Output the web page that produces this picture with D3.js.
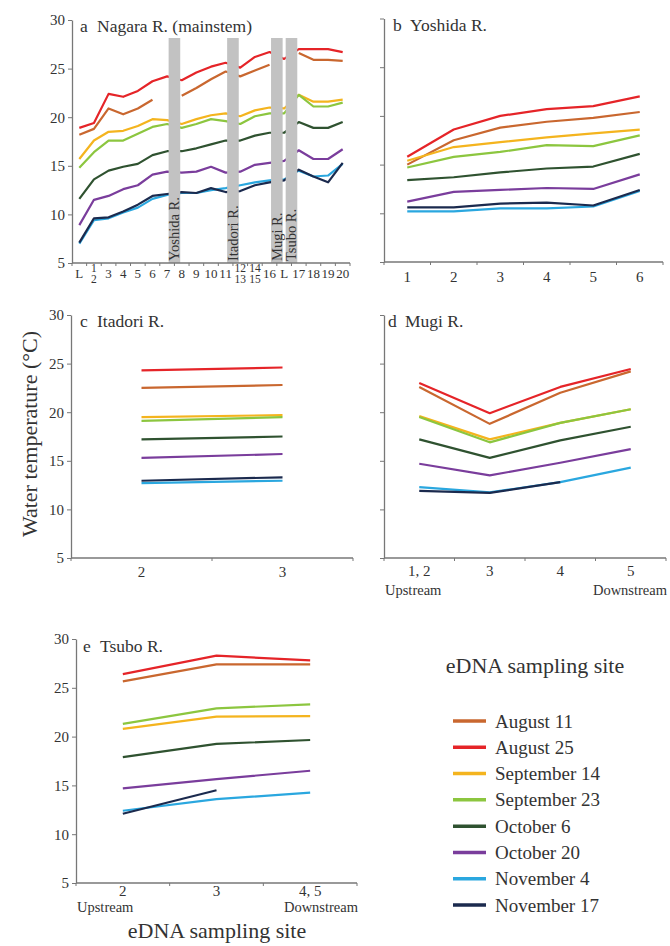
<!DOCTYPE html>
<html>
<head>
<meta charset="utf-8">
<script src="https://cdn.jsdelivr.net/npm/d3@7"></script>
<style>
  body { margin: 0; background: #fff; }
  text { font-family: "Liberation Serif", "Times New Roman", serif; fill: #333; }
</style>
</head>
<body>
<script>
// sampling dates (legend order) and their line colours
var dates = ["August 11", "August 25", "September 14", "September 23",
             "October 6", "October 20", "November 4", "November 17"];
var colors = ["#c9672f", "#e52428", "#f4b41e", "#8cc63f",
              "#2f5230", "#7a3d9c", "#2aa7df", "#1b2a4e"];

var yTicks = [5, 10, 15, 20, 25, 30];

// a  Nagara R. (mainstem)
var sitesA = ["L", "1/2", "3", "4", "5", "6", "7", "8", "9", "10", "11",
              "12/13", "14/15", "16", "L ", "17", "18", "19", "20"];
var nagara = [
  [18.2, 18.8, 20.9, 20.3, 20.9, 21.8, null, 22.2, 23.0, 23.9, 24.7, 24.2, 24.8, 25.4, null, 26.6, 25.9, 25.9, 25.8],
  [18.9, 19.4, 22.4, 22.1, 22.7, 23.7, 24.2, 23.8, 24.6, 25.2, 25.6, 25.1, 26.2, 26.7, 26.0, 27.0, 27.0, 27.0, 26.7],
  [15.7, 17.6, 18.5, 18.6, 19.1, 19.8, 19.7, 19.3, 19.8, 20.2, 20.4, 20.1, 20.7, 21.0, 20.9, 22.3, 21.6, 21.6, 21.8],
  [14.8, 16.4, 17.6, 17.6, 18.3, 19.0, 19.3, 18.9, 19.3, 19.8, 19.6, 19.3, 20.1, 20.4, 20.4, 22.3, 21.1, 21.1, 21.5],
  [11.6, 13.6, 14.5, 14.9, 15.2, 16.1, 16.5, 16.5, 16.8, 17.2, 17.6, 17.6, 18.1, 18.4, 18.4, 19.5, 18.9, 18.9, 19.5],
  [8.9, 11.5, 11.9, 12.6, 13.0, 14.1, 14.4, 14.3, 14.4, 14.9, 14.3, 14.4, 15.1, 15.3, 15.5, 16.6, 15.7, 15.7, 16.7],
  [7.0, 9.4, 9.6, 10.2, 10.7, 11.6, 12.0, 12.2, 12.2, 12.5, 12.7, 13.0, 13.3, 13.5, 13.6, 14.5, 13.9, 14.0, 15.2],
  [7.1, 9.6, 9.7, 10.3, 11.0, 11.9, 12.1, 12.3, 12.2, 12.7, 12.3, 12.4, 13.0, 13.3, 13.5, 14.6, 13.9, 13.3, 15.3]
];
// tributary confluences, placed between two mainstem sites
var tributaries = ["Yoshida R.", "Itadori R.", "Mugi R.", "Tsubo R."];
var confluenceAfter = ["7", "11", "16", "L "];

// b  Yoshida R.
var sitesB = ["1", "2", "3", "4", "5", "6"];
var yoshida = [
  [15.0, 17.5, 18.8, 19.4, 19.8, 20.4],
  [15.8, 18.6, 20.0, 20.7, 21.0, 22.0],
  [15.4, 16.8, 17.3, 17.8, 18.2, 18.6],
  [14.7, 15.8, 16.3, 17.0, 16.9, 18.0],
  [13.4, 13.7, 14.2, 14.6, 14.8, 16.1],
  [11.2, 12.2, 12.4, 12.6, 12.5, 14.0],
  [10.2, 10.2, 10.5, 10.5, 10.7, 12.3],
  [10.6, 10.6, 11.0, 11.1, 10.8, 12.4]
];

// c  Itadori R.
var sitesC = ["2", "3"];
var itadori = [
  [22.5, 22.8],
  [24.3, 24.6],
  [19.5, 19.7],
  [19.1, 19.5],
  [17.2, 17.5],
  [15.3, 15.7],
  [12.7, 12.95],
  [12.95, 13.3]
];

// d  Mugi R.
var sitesD = ["1, 2", "3", "4", "5"];
var mugi = [
  [22.6, 18.8, 22.0, 24.2],
  [23.0, 19.9, 22.6, 24.45],
  [19.6, 17.2, 18.9, 20.3],
  [19.5, 16.9, 18.9, 20.3],
  [17.2, 15.3, 17.1, 18.5],
  [14.7, 13.5, 14.8, 16.2],
  [12.3, 11.75, 12.8, 14.3],
  [11.9, 11.7, 12.8, null]
];

// e  Tsubo R.
var sitesE = ["2", "3", "4, 5"];
var tsubo = [
  [25.65, 27.4, 27.4],
  [26.4, 28.3, 27.8],
  [20.8, 22.05, 22.1],
  [21.3, 22.9, 23.3],
  [17.9, 19.25, 19.65],
  [14.7, 15.65, 16.5],
  [12.4, 13.6, 14.25],
  [12.1, 14.5, null]
];

var svg = d3.select("body").append("svg")
  .attr("width", 670)
  .attr("height", 946);

function drawPanel(o) {
  var x = d3.scaleBand().domain(o.sites).range([o.x0, o.x1]);
  var y = d3.scaleLinear().domain([5, 30]).range([o.yBottom, o.yTop]);
  var g = svg.append("g");

  var line = d3.line()
    .defined(function(v) { return v != null; })
    .x(function(v, i) { return x(o.sites[i]) + x.bandwidth() / 2; })
    .y(function(v) { return y(v); });

  o.values.forEach(function(s, k) {
    g.append("path")
      .attr("d", line(s))
      .attr("fill", "none")
      .attr("stroke", colors[k])
      .attr("stroke-width", 2.2)
      .attr("stroke-linejoin", "round");
  });

  // grey bands for the tributary confluences
  if (o.bars) {
    o.bars.forEach(function(b, i) {
      var cx = x(b) + x.bandwidth();
      g.append("rect")
        .attr("x", cx - 5.8)
        .attr("y", 38)
        .attr("width", 11.6)
        .attr("height", o.yBottom - 38)
        .attr("fill", "#c2c2c2");
      g.append("text")
        .attr("transform", "translate(" + (cx + 5) + "," + (o.yBottom - 2) + ") rotate(-90)")
        .attr("font-size", 14.5)
        .text(tributaries[i]);
    });
  }

  // y axis
  var ya = g.append("g")
    .attr("transform", "translate(" + o.x0 + ",0)")
    .call(d3.axisLeft(y).tickValues(yTicks).tickSize(4).tickSizeOuter(0)
      .tickFormat(o.yLabels ? d3.format("d") : ""));
  ya.select(".domain").attr("stroke", "#777").attr("stroke-width", 1.3);
  ya.selectAll(".tick line").attr("stroke", "#777");
  ya.selectAll(".tick text")
    .attr("font-family", "Liberation Serif")
    .attr("font-size", 15)
    .attr("fill", "#333");

  // x axis: line, ticks at band edges, labels at band centres
  g.append("line")
    .attr("x1", o.x0).attr("x2", o.x1)
    .attr("y1", o.yBottom).attr("y2", o.yBottom)
    .attr("stroke", "#777").attr("stroke-width", 1.3);
  var edges = o.sites.map(function(d) { return x(d); }).concat([o.x1]);
  g.selectAll(".edge").data(edges).enter().append("line")
    .attr("x1", function(d) { return d; }).attr("x2", function(d) { return d; })
    .attr("y1", o.yBottom).attr("y2", o.yBottom + 3)
    .attr("stroke", "#777");

  o.sites.forEach(function(s) {
    var cx = x(s) + x.bandwidth() / 2;
    var t = g.append("text")
      .attr("x", cx)
      .attr("text-anchor", "middle");
    if (s.indexOf("/") >= 0) {
      var parts = s.split("/");
      t.attr("font-size", o.smallSize);
      t.append("tspan").attr("x", cx).attr("y", o.yBottom + 9).text(parts[0]);
      t.append("tspan").attr("x", cx).attr("y", o.yBottom + 20).text(parts[1]);
    } else {
      t.attr("y", o.labelY).attr("font-size", o.labelSize).text(s.trim());
    }
  });

  if (o.upDown) {
    g.append("text").attr("x", o.x0 + 1).attr("y", o.upDownY)
      .attr("font-size", 14.5).text("Upstream");
    g.append("text").attr("x", o.x1 + 1).attr("y", o.upDownY)
      .attr("text-anchor", "end").attr("font-size", 14.5).text("Downstream");
  }

  g.append("text").attr("x", o.titleX).attr("y", o.titleY)
    .attr("font-size", 17.5).text(o.letter);
  g.append("text").attr("x", o.titleX + 17).attr("y", o.titleY)
    .attr("font-size", 17.5).text(o.title);
}

drawPanel({ sites: sitesA, values: nagara, x0: 72, x1: 350, yTop: 20, yBottom: 263,
  yLabels: true, labelY: 278, labelSize: 13, smallSize: 11.5, bars: confluenceAfter,
  letter: "a", title: "Nagara R. (mainstem)", titleX: 80, titleY: 32 });

drawPanel({ sites: sitesB, values: yoshida, x0: 384, x1: 663, yTop: 18.5, yBottom: 262,
  yLabels: false, labelY: 282, labelSize: 15,
  letter: "b", title: "Yoshida R.", titleX: 393, titleY: 31 });

drawPanel({ sites: sitesC, values: itadori, x0: 71, x1: 353, yTop: 315, yBottom: 558,
  yLabels: true, labelY: 577, labelSize: 15,
  letter: "c", title: "Itadori R.", titleX: 80, titleY: 327 });

drawPanel({ sites: sitesD, values: mugi, x0: 384, x1: 666, yTop: 315, yBottom: 558,
  yLabels: false, labelY: 576, labelSize: 15, upDown: true, upDownY: 595,
  letter: "d", title: "Mugi R.", titleX: 388, titleY: 327 });

drawPanel({ sites: sitesE, values: tsubo, x0: 76, x1: 357, yTop: 639, yBottom: 883,
  yLabels: true, labelY: 896, labelSize: 15, upDown: true, upDownY: 912,
  letter: "e", title: "Tsubo R.", titleX: 83, titleY: 652 });

// axis titles
svg.append("text")
  .attr("transform", "translate(37,434) rotate(-90)")
  .attr("text-anchor", "middle")
  .attr("font-size", 22)
  .text("Water temperature (\u00B0C)");

svg.append("text")
  .attr("x", 217).attr("y", 938)
  .attr("text-anchor", "middle")
  .attr("font-size", 22)
  .text("eDNA sampling site");

// legend
var legend = svg.append("g");
legend.append("text")
  .attr("x", 535).attr("y", 673)
  .attr("text-anchor", "middle")
  .attr("font-size", 22)
  .text("eDNA sampling site");

var rowY = d3.scalePoint().domain(dates).range([721, 905]);
dates.forEach(function(d, k) {
  legend.append("line")
    .attr("x1", 453).attr("x2", 486)
    .attr("y1", rowY(d)).attr("y2", rowY(d))
    .attr("stroke", colors[k]).attr("stroke-width", 3.5);
  legend.append("text")
    .attr("x", 495).attr("y", rowY(d) + 6.5)
    .attr("font-size", 19)
    .text(d);
});
</script>
</body>
</html>
